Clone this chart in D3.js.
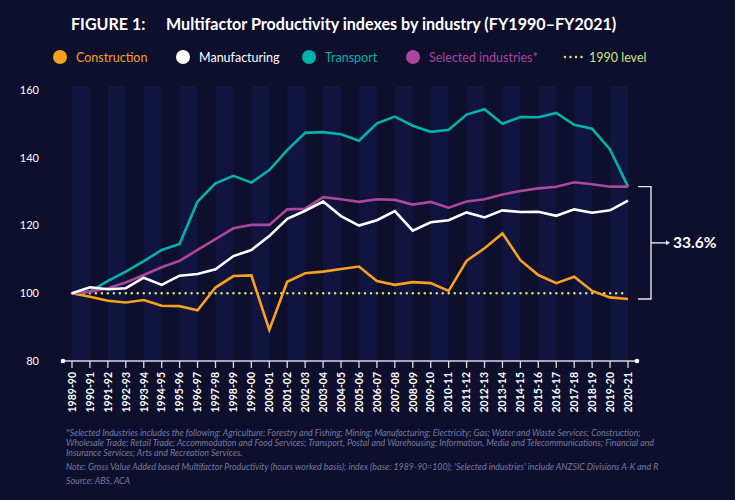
<!DOCTYPE html>
<html><head><meta charset="utf-8">
<script src="https://cdn.jsdelivr.net/npm/d3@7"></script>
<style>
html,body{margin:0;padding:0;background:#0d0f2d;}
svg{display:block;}
</style></head>
<body>
<script>
const years = ["1989-90","1990-91","1991-92","1992-93","1993-94","1994-95","1995-96","1996-97","1997-98","1998-99","1999-00","2000-01","2001-02","2002-03","2003-04","2004-05","2005-06","2006-07","2007-08","2008-09","2009-10","2010-11","2011-12","2012-13","2013-14","2014-15","2015-16","2016-17","2017-18","2018-19","2019-20","2020-21"];
const construction = [100,99.0,97.8,97.3,98.0,96.3,96.2,95.0,101.7,105.1,105.3,89.2,103.4,105.9,106.4,107.2,107.9,103.6,102.5,103.3,103.0,100.7,109.6,113.3,117.7,109.8,105.4,103.0,104.9,100.7,98.8,98.3];
const manufacturing = [100,101.8,101.2,101.5,104.6,102.5,105.2,105.7,107.1,111.0,112.8,116.9,122.0,124.4,127.1,122.8,120.0,121.6,124.3,118.5,121.0,121.6,123.9,122.4,124.5,124.0,124.1,122.9,124.8,123.8,124.5,127.4];
const transport = [100,100.5,103.7,106.4,109.5,112.8,114.6,127.1,132.5,134.7,132.7,136.4,142.3,147.4,147.6,147.0,145.1,150.2,152.2,149.5,147.7,148.3,152.8,154.4,150.1,152.1,152.0,153.3,149.8,148.6,142.5,131.5];
const selected = [100,100.5,101.5,103.2,105.4,107.7,109.6,112.8,116.0,119.2,120.2,120.2,124.8,125.0,128.4,127.8,127.0,127.8,127.6,126.2,127.0,125.3,127.1,127.8,129.2,130.2,131.0,131.5,132.8,132.2,131.5,131.5];
const baseLevel = 100;
const yTicks = [80,100,120,140,160];
const seriesNames = ["Construction","Manufacturing","Transport","Selected industries*"];
const seriesColors = ["#f7a11c","#ffffff","#00b2a7","#a9479c"];
const levelLabel = "1990 level";
const levelColor = "#d3e17c";
const changeLabel = "33.6%";
const titleNum = "FIGURE 1:";
const titleText = "Multifactor Productivity indexes by industry (FY1990\u2013FY2021)";
const notes = [
 "*Selected Industries includes the following: Agriculture; Forestry and Fishing; Mining; Manufacturing; Electricity; Gas; Water and Waste Services; Construction;",
 "Wholesale Trade; Retail Trade; Accommodation and Food Services; Transport, Postal and Warehousing; Information, Media and Telecommunications; Financial and",
 "Insurance Services; Arts and Recreation Services.",
 "Note: Gross Value Added based Multifactor Productivity (hours worked basis); index (base: 1989-90=100); 'Selected industries' include ANZSIC Divisions A-K and R",
 "Source: ABS, ACA"
];

const W = 735, H = 500;
const svg = d3.select("body").append("svg").attr("width", W).attr("height", H);
svg.append("rect").attr("width", W).attr("height", H).attr("fill", "#0d0f2d");

const font = "Lato, 'Open Sans', sans-serif";
const x = d3.scaleLinear().domain([0, years.length - 1]).range([72, 628]);
const y = d3.scaleLinear().domain([80, 160]).range([361, 90.2]);

// bands
const bands = d3.range(0, years.length - 1, 2);
svg.append("g").selectAll("rect").data(bands).join("rect")
  .attr("x", d => x(d)).attr("width", d => x(d + 1) - x(d))
  .attr("y", 86).attr("height", 361 - 86)
  .attr("fill", "#10143f");

// title
svg.append("text").attr("x", 71).attr("y", 30).attr("fill", "#fff")
  .attr("font-family", font).attr("font-weight", "bold").attr("font-size", 16.1).text(titleNum);
svg.append("text").attr("x", 166).attr("y", 30).attr("fill", "#fff")
  .attr("font-family", font).attr("font-weight", "bold").attr("font-size", 16.1).text(titleText);

// legend
const legX = [60, 183, 309, 413];
const lg = svg.append("g");
seriesNames.forEach((n, i) => {
  lg.append("circle").attr("cx", legX[i]).attr("cy", 57).attr("r", 7).attr("fill", seriesColors[i]);
  lg.append("text").attr("x", legX[i] + 16).attr("y", 61.5).attr("fill", seriesColors[i])
    .attr("font-family", font).attr("font-size", 12.5).text(n);
});
lg.append("line").attr("x1", 565).attr("x2", 585).attr("y1", 57).attr("y2", 57)
  .attr("stroke", levelColor).attr("stroke-width", 2.5).attr("stroke-linecap", "round")
  .attr("stroke-dasharray", "0,5.5");
lg.append("text").attr("x", 589).attr("y", 61.5).attr("fill", levelColor)
  .attr("font-family", font).attr("font-size", 12.5).text(levelLabel);

// y labels
svg.append("g").selectAll("text").data(yTicks).join("text")
  .attr("x", 39).attr("y", d => y(d)).attr("dy", "0.35em").attr("text-anchor", "end")
  .attr("fill", "#fff").attr("font-family", font).attr("font-size", 11).text(d => d);

// x axis
const ax = svg.append("g");
ax.append("line").attr("x1", 63).attr("x2", 637).attr("y1", 361).attr("y2", 361)
  .attr("stroke", "#d8d8e0").attr("stroke-width", 1.5);
ax.selectAll("circle").data([63, 637]).join("circle")
  .attr("cx", d => d).attr("cy", 361).attr("r", 2.3).attr("fill", "#fff");
ax.selectAll("line.tk").data(years).join("line").attr("class", "tk")
  .attr("x1", (d, i) => x(i)).attr("x2", (d, i) => x(i)).attr("y1", 361).attr("y2", 368)
  .attr("stroke", "#d8d8e0").attr("stroke-width", 1.3);
ax.selectAll("text").data(years).join("text")
  .attr("transform", (d, i) => `translate(${x(i)},372) rotate(-90)`)
  .attr("text-anchor", "end").attr("dy", "0.36em")
  .attr("fill", "#fff").attr("font-family", font).attr("font-weight", "bold").attr("font-size", 10.5)
  .text(d => d);

// 1990 level
svg.append("line").attr("x1", x(0)).attr("x2", x(years.length - 1))
  .attr("y1", y(baseLevel)).attr("y2", y(baseLevel))
  .attr("stroke", levelColor).attr("stroke-width", 2.6).attr("stroke-linecap", "round")
  .attr("stroke-dasharray", "0,5.98");

// lines
const line = d3.line().x((d, i) => x(i)).y(d => y(d));
const data = [construction, transport, selected, manufacturing];
const cols = [seriesColors[0], seriesColors[2], seriesColors[3], seriesColors[1]];
data.forEach((s, k) => {
  svg.append("path").datum(s).attr("d", line).attr("fill", "none")
    .attr("stroke", cols[k]).attr("stroke-width", 2.6).attr("stroke-linejoin", "miter");
});

// bracket annotation
const yTop = y(selected[selected.length - 1]);
const yBot = y(construction[construction.length - 1]);
const bx = 651;
svg.append("path").attr("d", `M638,${yTop}H${bx}V${yBot}H638`).attr("fill", "none")
  .attr("stroke", "#e6e6ee").attr("stroke-width", 1.4);
const ym = (yTop + yBot) / 2;
svg.append("line").attr("x1", bx).attr("x2", 668).attr("y1", ym).attr("y2", ym)
  .attr("stroke", "#e6e6ee").attr("stroke-width", 1.4);
svg.append("path").attr("d", `M666,${ym - 2.5}L670,${ym}L666,${ym + 2.5}Z`).attr("fill", "#e6e6ee");
svg.append("text").attr("x", 673).attr("y", ym).attr("dy", "0.36em").attr("fill", "#fff")
  .attr("font-family", font).attr("font-weight", "bold").attr("font-size", 15.5).text(changeLabel);

// notes
const ny = [436, 446, 456, 470, 484];
svg.append("g").selectAll("text").data(notes).join("text")
  .attr("x", 66).attr("y", (d, i) => ny[i])
  .attr("fill", "#767a9e").attr("font-family", font).attr("font-style", "italic")
  .attr("font-size", 8.8).text(d => d);
</script>
</body></html>
